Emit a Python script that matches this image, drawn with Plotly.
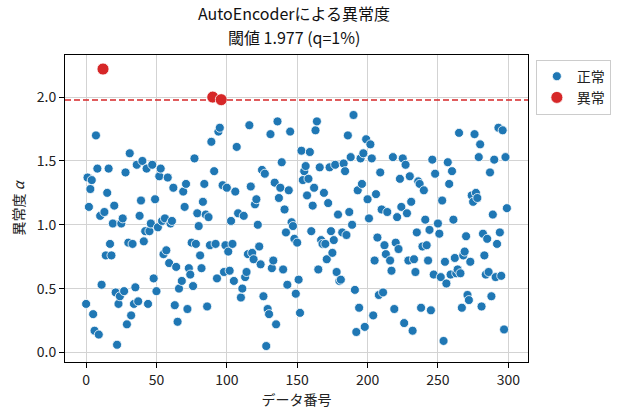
import plotly.graph_objects as go

# data number (index) and anomaly score
normal_idx = [0,1,2,3,4,5,6,7,8,9,10,11,13,14,15,16,17,18,19,20,21,22,23,24,25,26,27,28,29,30,
              31,32,33,34,35,36,37,38,39,40,41,42,43,44,45,46,47,48,
              49,50,51,52,53,54,55,56,57,58,59,60,61,62,63,64,65,66,68,69,70,71,72,73,74,75,76,77,78,79,80,
              81,82,83,84,85,86,87,88,89,91,92,93,94,95,97,98,99,100,
              101,102,103,104,105,106,107,108,110,111,112,113,114,115,116,117,118,119,120,121,122,123,124,125,
              126,127,128,129,130,131,132,133,134,135,136,137,138,139,140,141,142,143,144,145,146,147,148,149,
              150,151,152,153,154,
              155,156,157,158,159,160,161,162,163,164,165,166,167,168,169,170,171,172,173,174,175,176,177,178,
              179,180,181,182,183,184,185,186,187,188,189,190,191,192,193,194,195,196,197,198,199,200,201,202,
              203,204,205,
              206,207,208,209,210,211,212,213,214,216,217,218,219,220,221,222,223,224,225,226,227,228,229,230,
              231,232,233,234,235,236,237,238,239,240,241,242,243,244,245,246,247,248,250,251,252,253,254,255,
              256,257,258,
              259,260,261,262,263,264,265,266,267,268,269,270,271,272,273,274,275,276,277,278,279,280,281,282,
              283,284,285,286,287,288,289,290,291,292,293,294,295,296,297,298,299]
normal_score = [0.38,1.37,1.14,1.28,1.35,0.30,0.17,1.70,1.44,0.14,1.07,0.53,1.10,0.76,1.25,1.44,0.85,0.76,1.01,1.15,
                0.47,0.06,0.38,0.44,1.01,1.05,0.48,1.41,0.22,0.86,
                1.56,0.29,0.85,0.38,0.51,1.47,0.40,1.07,1.19,1.50,0.87,0.95,1.44,0.38,0.95,1.01,1.47,0.58,
                1.20,0.48,0.98,1.38,1.44,1.03,0.77,1.05,0.80,1.37,0.70,1.01,1.03,1.29,0.37,0.67,0.24,0.50,
                0.56,1.26,1.14,1.32,0.34,0.66,0.61,0.86,0.52,1.52,0.85,1.09,0.99,
                0.76,0.66,1.18,1.32,1.08,0.36,1.06,0.84,1.65,1.42,0.85,0.58,1.73,1.76,1.31,0.63,0.84,1.29,
                0.79,0.64,1.03,0.85,0.56,1.26,1.61,1.09,0.43,0.50,1.07,0.59,0.63,0.77,1.78,1.30,0.78,0.73,
                1.16,1.20,1.00,0.83,0.69,1.43,
                0.44,1.40,0.05,0.34,0.30,1.71,0.66,0.72,1.33,0.22,1.81,1.21,1.29,1.49,0.65,1.12,0.94,0.53,
                1.27,1.73,1.02,0.99,0.89,0.46,
                0.86,0.57,0.31,1.58,1.35,
                1.42,1.46,1.23,1.36,1.57,0.95,1.15,1.29,1.74,1.81,0.65,1.45,0.88,0.85,1.25,0.85,0.73,1.17,
                1.45,0.95,0.78,0.88,1.47,0.63,
                1.08,0.56,0.57,0.94,1.48,1.42,0.92,1.70,1.10,1.53,1.00,1.86,0.49,0.16,1.27,0.35,1.52,1.32,
                1.56,0.20,1.67,1.20,1.05,1.63,
                1.52,0.29,0.72,
                1.24,0.90,0.45,1.41,1.12,0.47,0.84,0.77,1.10,0.72,0.64,1.53,0.34,0.86,1.06,0.81,1.36,1.14,
                1.52,0.23,1.47,1.09,0.72,1.38,
                1.18,0.17,0.73,0.63,0.94,1.34,1.32,0.35,0.83,1.27,1.04,0.84,0.72,0.96,0.33,1.51,0.61,1.40,
                1.01,0.93,0.59,1.19,0.09,0.71,
                0.54,1.49,1.32,
                0.61,1.42,1.04,0.74,0.62,0.65,1.72,0.62,0.35,0.76,0.79,0.91,0.45,0.41,0.71,1.23,1.18,1.71,
                1.25,1.21,1.53,1.63,0.36,0.93,
                0.76,0.61,0.89,0.63,1.41,0.44,1.08,1.51,0.59,0.85,1.76,0.94,0.60,1.74,0.18,1.53,1.13]
anomaly_idx = [12, 90, 96]
anomaly_score = [2.22, 2.00, 1.98]
threshold = 1.977
title_lines = ["AutoEncoderによる異常度", "閾値 1.977 (q=1%)"]
x_ticks = [0, 50, 100, 150, 200, 250, 300]
y_ticks = [0.0, 0.5, 1.0, 1.5, 2.0]

FONT = "Noto Sans CJK JP"
PLOT_H = 414 - 55 - 52

fig = go.Figure()
fig.add_trace(go.Scatter(
    x=normal_idx, y=normal_score, mode="markers", name="正常",
    marker=dict(color="#1f77b4", size=9, line=dict(color="white", width=0.8)),
))
fig.add_trace(go.Scatter(
    x=anomaly_idx, y=anomaly_score, mode="markers", name="異常",
    marker=dict(color="#d62728", size=12, line=dict(color="white", width=0.8)),
))
fig.add_shape(type="line", xref="paper", x0=0, x1=1, yref="y", y0=threshold, y1=threshold,
              line=dict(color="#d62728", width=1.6, dash="6px,3px"), layer="above")

# two-line title as two annotations (pixel rows ~14 and ~37)
for line_text, px_y in zip(title_lines, [13, 37]):
    fig.add_annotation(text=line_text, xref="paper", x=0.495, xanchor="center",
                       yref="paper", y=1 + (55 - px_y) / PLOT_H, yanchor="middle",
                       showarrow=False, font=dict(family=FONT, size=16, color="#111"))

axis_common = dict(
    showline=True, linecolor="black", linewidth=1, mirror=True,
    ticks="outside", ticklen=5, tickwidth=1, tickcolor="black",
    showgrid=True, gridcolor="#d3d3d3", gridwidth=0.8, zeroline=False,
    tickfont=dict(family=FONT, size=14, color="#222"),
)
fig.update_xaxes(range=[-15, 314], tickvals=x_ticks, ticktext=[str(v) for v in x_ticks],
                 title=dict(text="データ番号", font=dict(family=FONT, size=14, color="#222"), standoff=4),
                 **axis_common)
fig.update_yaxes(range=[-0.075, 2.33], tickvals=y_ticks, ticktext=[f"{v:.1f}" for v in y_ticks],
                 title=dict(text="異常度 <i>α</i>", font=dict(family=FONT, size=14, color="#222"), standoff=8),
                 **axis_common)
fig.update_layout(
    width=623, height=414,
    margin=dict(l=65, r=95, t=55, b=52),
    paper_bgcolor="white", plot_bgcolor="white",
    font=dict(family=FONT, size=14, color="#222"),
    legend=dict(x=1.017, y=0.985, xanchor="left", yanchor="top",
                bordercolor="#cccccc", borderwidth=1, bgcolor="white",
                font=dict(family=FONT, size=14, color="#222"), itemwidth=30),
    showlegend=True,
)
fig.write_html("out.html", config={"displayModeBar": False},
               post_script="document.body.style.margin='0';document.body.style.overflow='hidden';")
